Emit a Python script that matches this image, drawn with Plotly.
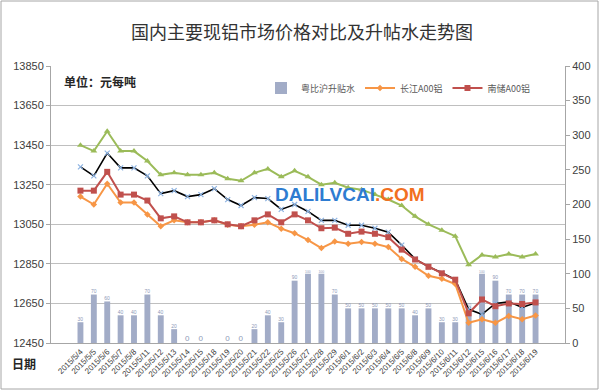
import plotly.graph_objects as go

dates = ["2015/5/4", "2015/5/5", "2015/5/6", "2015/5/7", "2015/5/8", "2015/5/11", "2015/5/12",
         "2015/5/13", "2015/5/14", "2015/5/15", "2015/5/18", "2015/5/19", "2015/5/20", "2015/5/21",
         "2015/5/22", "2015/5/25", "2015/5/26", "2015/5/27", "2015/5/28", "2015/5/29", "2015/6/1",
         "2015/6/2", "2015/6/3", "2015/6/4", "2015/6/5", "2015/6/8", "2015/6/9", "2015/6/10",
         "2015/6/11", "2015/6/12", "2015/6/15", "2015/6/16", "2015/6/17", "2015/6/18", "2015/6/19"]

premium = [30, 70, 60, 40, 40, 70, 40, 20, 0, 0, -3, 0, 0, 20, 40, 30, 90, 100, 100, 70,
           50, 50, 50, 50, 50, 40, 50, 30, 30, 50, 100, 90, 70, 70, 70]
premium_labels = ["30", "70", "60", "40", "40", "70", "40", "20", "0", "0", "", "0", "0", "20", "40",
                  "30", "90", "100", "100", "70", "50", "50", "50", "50", "50", "40", "50", "30",
                  "30", "50", "100", "90", "70", "70", "70"]

changjiang = [13190, 13150, 13255, 13160, 13160, 13100, 13040, 13070, 13060, 13060, 13070, 13048,
              13040, 13048, 13060, 13028, 13005, 12970, 12930, 12963, 12952, 12960, 12952, 12935,
              12875, 12835, 12790, 12775, 12748, 12552, 12570, 12552, 12587, 12570, 12589]

nanchu = [13220, 13220, 13315, 13200, 13200, 13170, 13080, 13090, 13060, 13060, 13070, 13050,
          13040, 13070, 13100, 13060, 13100, 13070, 13030, 13033, 13002, 13013, 13002, 12985,
          12922, 12872, 12835, 12802, 12770, 12600, 12670, 12636, 12650, 12647, 12655]

green_series = [13450, 13420, 13520, 13420, 13420, 13370, 13300, 13310, 13300, 13300, 13310, 13280,
                13270, 13310, 13330, 13290, 13320, 13290, 13250, 13260, 13235, 13225, 13200, 13175,
                13145, 13090, 13050, 13020, 12990, 12845, 12895, 12885, 12900, 12885, 12900]

black_series = [13340, 13295, 13410, 13335, 13335, 13295, 13205, 13220, 13190, 13200, 13230, 13175,
                13145, 13185, 13180, 13125, 13150, 13115, 13070, 13070, 13045, 13045, 13030, 13010,
                12945, 12875, 12835, 12805, 12770, 12620, 12595, 12650, 12658, 12630, 12653]

bar_colors = ["#555555" if v < 0 else "#A2ACC7" for v in premium]

CJK = "Noto Sans CJK SC, Liberation Sans, sans-serif"
NUM = "Liberation Sans, Arial, sans-serif"

fig = go.Figure()

fig.add_trace(go.Bar(
    x=dates, y=premium, name="粤比沪升贴水", yaxis="y",
    marker=dict(color=bar_colors, line=dict(width=0)),
    text=premium_labels, textposition="outside", cliponaxis=False,
    textfont=dict(size=8, color="#8E9AB8", family=NUM),
))

fig.add_trace(go.Scatter(
    x=dates, y=green_series, yaxis="y2", mode="lines+markers", showlegend=False,
    line=dict(color="#9BBB59", width=2),
    marker=dict(symbol="triangle-up", size=6, color="#9BBB59"),
))
fig.add_trace(go.Scatter(
    x=dates, y=black_series, yaxis="y2", mode="lines+markers", showlegend=False,
    line=dict(color="#000000", width=1.6),
    marker=dict(symbol="x-thin", size=5, line=dict(color="#8DB3E2", width=1.2)),
))
fig.add_trace(go.Scatter(
    x=dates, y=changjiang, name="长江A00铝", yaxis="y2", mode="lines+markers",
    line=dict(color="#F79646", width=2),
    marker=dict(symbol="diamond", size=5, color="#F79646"),
))
fig.add_trace(go.Scatter(
    x=dates, y=nanchu, name="南储A00铝", yaxis="y2", mode="lines+markers",
    line=dict(color="#C0504D", width=2),
    marker=dict(symbol="square", size=6, color="#C0504D"),
))

L, R, T, B = 51, 35, 66, 48
W, H = 600, 391
pw, ph = W - L - R, H - T - B


def px(xp):
    return (xp - L) / pw


def py(yp):
    return (H - B - yp) / ph


fig.update_layout(
    width=W, height=H,
    margin=dict(l=L, r=R, t=T, b=B, autoexpand=False),
    paper_bgcolor="white", plot_bgcolor="white",
    bargap=0.56,
    showlegend=True,
    legend=dict(orientation="h", x=px(261), y=py(88), xanchor="left", yanchor="middle",
                font=dict(family=CJK, size=9, color="#595959"),
                bgcolor="rgba(0,0,0,0)", itemwidth=30, tracegroupgap=0),
    title=dict(text="国内主要现铝市场价格对比及升帖水走势图", x=302 / W, xanchor="center",
               y=1 - 33 / H, yanchor="middle",
               font=dict(family=CJK, size=18, color="#333333")),
    xaxis=dict(type="category", tickangle=-45, showgrid=False, automargin=False,
               showline=True, linecolor="#A6A6A6", linewidth=1,
               ticks="", tickfont=dict(family=NUM, size=8, color="#404040")),
    yaxis=dict(side="right", range=[0, 400], dtick=50, tick0=0, showgrid=False, zeroline=False,
               automargin=False, tickformat="d",
               showline=True, linecolor="#A6A6A6", ticks="outside", ticklen=4,
               tickcolor="#A6A6A6",
               tickfont=dict(family=NUM, size=11, color="#404040")),
    yaxis2=dict(overlaying="y", side="left", range=[12450, 13850], dtick=200, tick0=12450,
                tickformat="d", automargin=False,
                showgrid=True, gridcolor="#BFBFBF", gridwidth=1, zeroline=False,
                showline=True, linecolor="#A6A6A6", ticks="outside", ticklen=4,
                tickcolor="#A6A6A6",
                tickfont=dict(family=NUM, size=11, color="#404040")),
    annotations=[
        dict(text="<b>单位：元每吨</b>", xref="paper", yref="paper", x=px(62), y=py(81),
             xanchor="left", yanchor="middle", showarrow=False,
             font=dict(family=CJK, size=12, color="#262626")),
        dict(text="<b>日期</b>", xref="paper", yref="paper", x=px(24), y=py(363),
             xanchor="center", yanchor="middle", showarrow=False,
             font=dict(family=CJK, size=12, color="#262626")),
        dict(text="<b><span style='color:#2E7CD1'>DALILVCAI</span><span style='color:#F26F21'>.COM</span></b>",
             xref="paper", yref="paper", x=px(350), y=py(194),
             xanchor="center", yanchor="middle", showarrow=False,
             font=dict(family="Liberation Sans, Arial, sans-serif", size=19)),
    ],
    shapes=[
        dict(type="rect", xref="paper", yref="paper",
             x0=px(1), x1=px(598), y0=py(389), y1=py(1),
             line=dict(color="#A6A6A6", width=1), fillcolor="rgba(0,0,0,0)", layer="below"),
    ],
)

fig.write_html("out.html", config={"displayModeBar": False},
               post_script="document.body.style.margin='0';")
